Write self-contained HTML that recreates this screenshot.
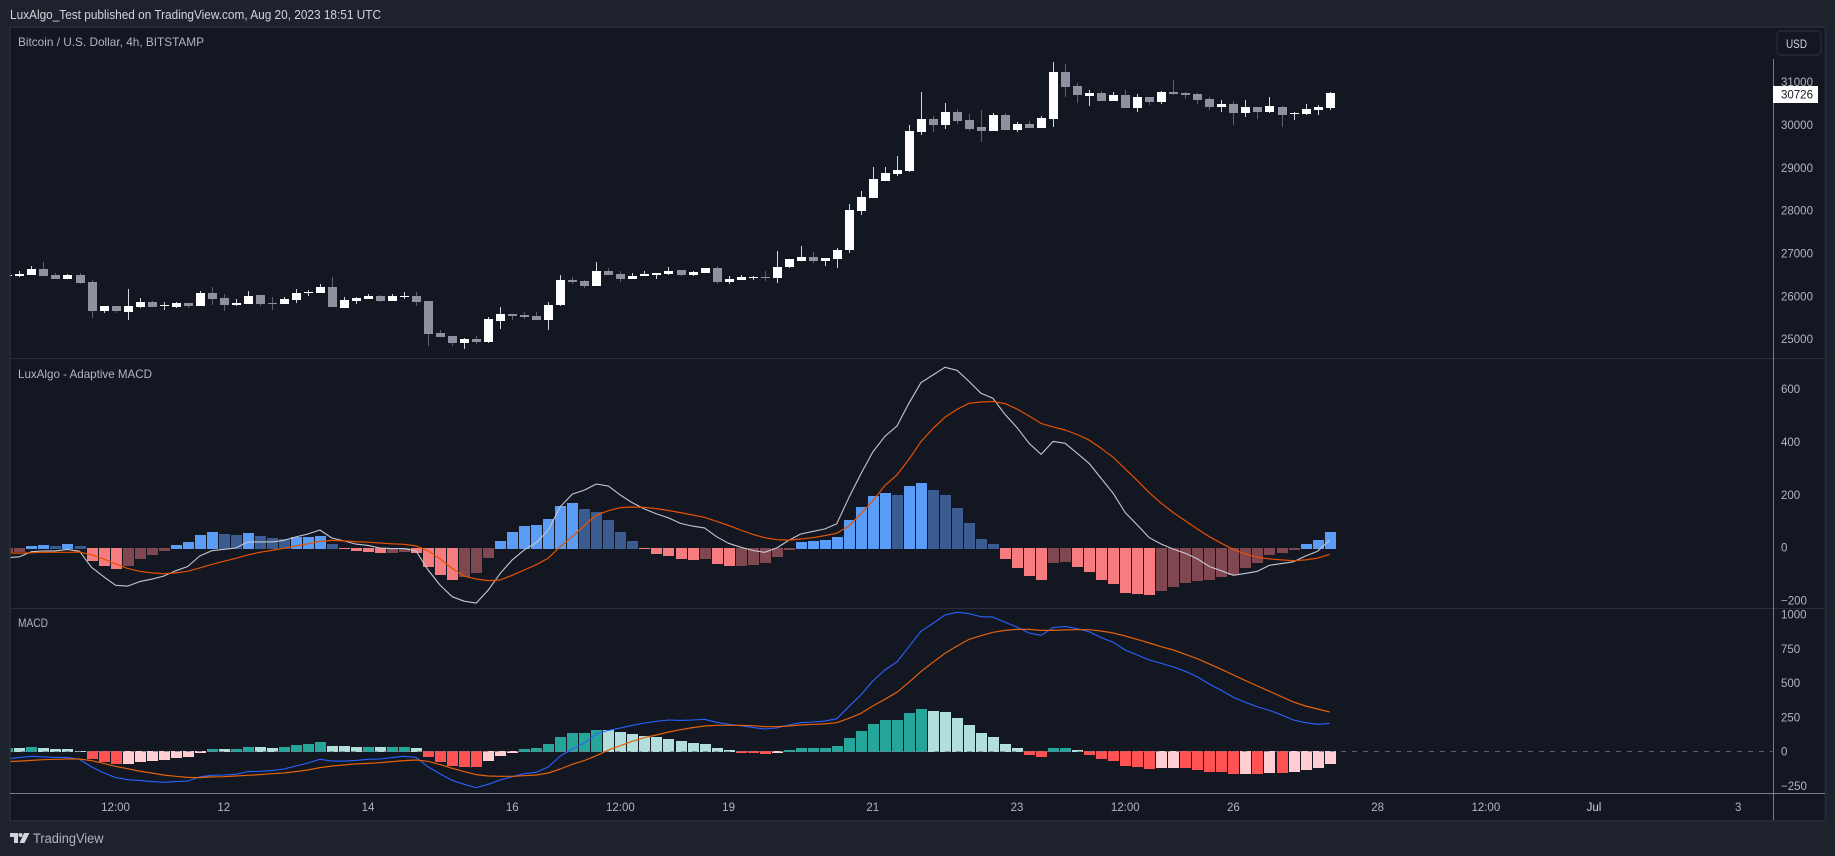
<!DOCTYPE html>
<html lang="en">
<head>
<meta charset="utf-8">
<title>Bitcoin / U.S. Dollar, 4h, BITSTAMP</title>
<style>
html,body{margin:0;padding:0;background:#1e222d;width:1835px;height:856px;overflow:hidden}
svg{display:block}
text{font-family:"Liberation Sans",sans-serif}
</style>
</head>
<body>
<svg id="chart" xmlns="http://www.w3.org/2000/svg" width="1835" height="856" viewBox="0 0 1835 856">
  <rect x="0" y="0" width="1835" height="856" fill="#1e222d"/>
  <text x="10" y="19" font-size="12.5" fill="#d1d4dc" textLength="371" lengthAdjust="spacingAndGlyphs">LuxAlgo_Test published on TradingView.com, Aug 20, 2023 18:51 UTC</text>
  <rect x="10" y="27" width="1815.5" height="794" fill="#131722" stroke="#2a2e39" stroke-width="1.5"/>
  <clipPath id="plot-clip"><rect x="10.7" y="27.7" width="1762" height="765"/></clipPath>
  <g id="marks" clip-path="url(#plot-clip)"></g>
  <line x1="10" x2="1825" y1="358.5" y2="358.5" stroke="#2a2e39"/>
  <line x1="10" x2="1825" y1="608.5" y2="608.5" stroke="#2a2e39"/>
  <line x1="10" x2="1825" y1="793.5" y2="793.5" stroke="#787b86"/>
  <line x1="1773.5" x2="1773.5" y1="59" y2="820" stroke="#787b86"/>
  <g id="axes"></g>
  <text x="18" y="46" font-size="12" fill="#b2b5be" textLength="186" lengthAdjust="spacingAndGlyphs">Bitcoin / U.S. Dollar, 4h, BITSTAMP</text>
  <text x="18" y="378" font-size="12" fill="#b2b5be" textLength="134" lengthAdjust="spacingAndGlyphs">LuxAlgo - Adaptive MACD</text>
  <text x="18" y="627" font-size="12" fill="#b2b5be" textLength="30" lengthAdjust="spacingAndGlyphs">MACD</text>
  <g>
    <rect x="1777" y="31" width="44" height="24" rx="4" fill="#131722" stroke="#2a2e39" stroke-width="1.2"/>
    <text x="1786" y="48" font-size="12" fill="#d1d4dc" textLength="21" lengthAdjust="spacingAndGlyphs">USD</text>
  </g>
  <g>
    <path d="M10 833h8v10h-4v-6h-4z" fill="#d1d4dc"/>
    <circle cx="20.5" cy="835" r="2" fill="#d1d4dc"/>
    <path d="M24 833h5.5l-5 10h-5z" fill="#d1d4dc"/>
    <text x="33" y="843" font-size="13.5" fill="#b2b5be" textLength="70.5" lengthAdjust="spacingAndGlyphs">TradingView</text>
  </g>
</svg>
<script>
const opens = [26480,
26463,26487,26627,26487,26393,26487,26323,25646,25763,25623,
25739,25856,25755,25739,25833,25763,26066,25950,25786,25809,
26020,25833,25809,25903,26058,26066,26206,25716,25879,25926,
25996,25879,25981,25996,25879,25132,25062,24899,24992,24922,
25413,25576,25553,25529,25436,25786,26370,26346,26230,26580,
26510,26393,26463,26486,26510,26603,26486,26533,26650,26323,
26370,26416,26440,26416,26673,26813,26907,26813,26860,27070,
27981,28284,28681,28844,28915,29825,30128,29988,30292,30105,
29942,29848,30222,29872,30012,29918,30128,31226,30899,30665,
30735,30549,30689,30385,30642,30525,30759,30735,30712,30595,
30409,30479,30268,30409,30292,30409,30245,30245,30338,30385];
const highs = [26490,
26580,26697,26790,26525,26510,26525,26370,25763,25763,26160,
25950,25879,25856,25856,25833,26113,26214,26043,25926,26113,
26020,25973,25973,26160,26136,26276,26440,25973,25973,26043,
26020,26043,26090,26090,25879,25202,25062,25016,25062,25506,
25739,25576,25623,25623,25856,26487,26440,26370,26790,26650,
26580,26533,26580,26533,26673,26603,26580,26650,26696,26463,
26486,26463,26580,27047,26860,27163,27023,26883,27117,28144,
28448,29008,29008,29265,29988,30759,30198,30502,30362,30245,
30338,30268,30268,30058,30082,30198,31459,31412,30969,30805,
30782,30759,30805,30712,30642,30782,31039,30759,30735,30642,
30572,30549,30572,30409,30642,30432,30292,30479,30455,30759];
const lows = [26470,
26448,26479,26463,26393,26393,26276,25483,25599,25607,25436,
25724,25739,25669,25716,25724,25763,25786,25646,25763,25809,
25763,25669,25809,25833,25996,26066,25739,25716,25809,25926,
25856,25879,25926,25763,24829,25039,24829,24759,24875,24899,
25226,25436,25459,25436,25202,25763,26276,26183,26230,26486,
26323,26393,26463,26393,26486,26463,26463,26533,26276,26276,
26370,26370,26346,26300,26650,26813,26767,26696,26650,27000,
27887,28284,28681,28798,28891,29755,29825,29895,30012,29848,
29591,29848,29872,29825,29918,29918,29942,30642,30502,30432,
30549,30549,30385,30292,30455,30479,30689,30595,30479,30338,
30292,29988,30175,30128,30268,29942,30105,30222,30222,30338];
const closes = [26490,
26518,26627,26463,26393,26479,26292,25646,25763,25646,25763,
25856,25739,25778,25833,25763,26066,25926,25786,25833,25996,
25809,25809,25926,26066,26090,26206,25739,25903,25950,25996,
25879,25996,25996,25856,25109,25039,24899,24992,24922,25459,
25576,25529,25506,25436,25786,26370,26323,26230,26580,26486,
26393,26463,26510,26533,26580,26486,26556,26650,26323,26393,
26440,26440,26416,26673,26860,26907,26813,26883,27070,28004,
28308,28728,28868,28938,29848,30128,29988,30292,30082,29895,
29848,30222,29872,30012,29918,30152,31226,30875,30689,30735,
30549,30689,30385,30642,30525,30759,30712,30689,30572,30409,
30479,30268,30409,30292,30432,30222,30268,30362,30409,30726];

const adaptiveHist = [-13,
-13,6,9,6,13,6,-47,-66,-77,-66,
-40,-25,-9,9,21,47,59,51,47,55,
43,36,32,40,40,43,13,-3,-9,-13,
-17,-17,-13,-17,-70,-100,-119,-108,-93,-36,
25,59,81,85,108,157,168,145,134,104,
59,25,-2,-21,-28,-40,-43,-40,-59,-66,
-66,-62,-55,-32,-6,21,25,28,40,104,
153,195,206,198,232,244,217,198,149,93,
32,13,-40,-74,-104,-119,-55,-51,-70,-89,
-119,-134,-168,-172,-176,-161,-146,-130,-123,-119,
-108,-100,-74,-55,-25,-17,-6,13,28,59];
const adaptiveLine = [-38,
-35,-16,-13,-13,-7,-14,-75,-110,-143,-146,
-129,-120,-108,-88,-72,-32,-12,-7,-2,21,
21,21,27,40,51,66,36,25,13,8,
-2,-4,-4,-13,-85,-142,-186,-203,-210,-161,
-98,-47,-9,18,66,154,202,217,240,232,
198,169,146,127,112,91,81,74,41,16,
1,-11,-18,-2,27,51,61,70,90,188,
278,361,420,459,545,623,652,681,670,628,
583,564,503,453,394,352,401,394,356,318,
261,205,132,85,37,13,-6,-22,-43,-72,
-88,-105,-98,-90,-67,-61,-54,-32,-14,28];
const adaptiveSignal = [-20,
-21,-20,-18,-18,-18,-17,-28,-43,-62,-79,
-90,-96,-99,-96,-90,-77,-64,-52,-41,-28,
-18,-11,-3,6,14,23,27,25,22,20,
17,14,12,6,-12,-43,-79,-108,-119,-125,
-123,-105,-85,-65,-40,3,41,83,123,139,
151,153,152,147,140,132,123,114,99,83,
66,50,37,30,28,32,37,45,54,81,
127,177,234,274,333,400,450,492,522,545,
550,552,544,523,497,469,456,444,427,406,
375,341,297,253,207,167,132,101,70,41,
16,-7,-25,-37,-43,-47,-50,-47,-40,-26];

const macdHist = [25,
24,32,24,17,16,2,-49,-71,-85,-84,
-71,-63,-56,-41,-34,-5,17,16,18,32,
31,24,32,46,54,68,39,38,32,33,
31,33,34,24,-34,-71,-100,-107,-108,-63,
-27,-5,17,24,54,105,134,135,156,155,
141,127,112,105,90,75,61,54,24,10,
-5,-6,-12,-5,10,24,25,26,39,97,
148,200,229,230,280,309,294,287,243,192,
134,105,54,24,-19,-34,24,25,10,-19,
-49,-63,-100,-107,-122,-114,-113,-114,-129,-144,
-145,-158,-157,-158,-151,-152,-144,-129,-114,-85];
const macdLine = [-54,
-46,-36,-41,-44,-44,-58,-114,-156,-192,-207,
-212,-221,-226,-221,-217,-187,-175,-173,-168,-148,
-146,-141,-129,-107,-85,-58,-71,-71,-66,-58,
-56,-46,-36,-44,-114,-165,-212,-241,-265,-241,
-209,-185,-163,-153,-114,-34,17,61,129,153,
170,190,207,219,229,226,229,234,212,197,
187,175,163,170,192,209,214,221,238,326,
411,513,594,652,764,876,934,995,1015,1005,
983,980,942,907,864,847,903,912,895,873,
830,796,740,703,667,642,616,584,543,491,
445,394,358,324,299,265,229,209,197,204];
const macdSignal = [-75,
-71,-66,-61,-58,-56,-56,-68,-88,-109,-127,
-144,-158,-173,-182,-190,-192,-187,-185,-180,-175,
-170,-163,-158,-148,-136,-119,-107,-100,-92,-88,
-83,-75,-68,-63,-73,-97,-124,-148,-170,-180,
-182,-182,-178,-173,-158,-129,-95,-68,-32,10,
41,73,100,119,141,158,173,185,190,190,
190,187,180,180,185,192,197,200,209,241,
277,331,380,431,504,581,650,715,769,817,
844,869,883,890,890,883,883,886,888,888,
878,864,842,817,791,764,740,708,676,637,
599,557,516,477,438,399,360,331,309,287];

const priceTicks = [25000,26000,27000,28000,29000,30000,31000];
const adaptiveTicks = [-200,0,200,400,600];
const macdTicks = [-250,0,250,500,750,1000];
const timeTickBars = [9,18,30,42,51,60,72,84,93,102,114,123,132,144];
const timeTickLabels = ["12:00","12","14","16","12:00","19","21","23","12:00","26","28","12:00","Jul","3"];
const lastPrice = 30726;

const NS = "http://www.w3.org/2000/svg";
const marks = document.getElementById("marks");
const axes = document.getElementById("axes");

function xBar(i){ return 7.38 + i * 12.02; }
function yPrice(p){ return 81.67 + (31000 - p) * 0.04283; }
function yAdaptive(v){ return 547.5 - v * 0.26455; }
function yMacd(v){ return 751.33 - v * 0.137; }

function mk(parent, tag, attrs){
  const el = document.createElementNS(NS, tag);
  for (const k in attrs) el.setAttribute(k, attrs[k]);
  parent.appendChild(el);
  return el;
}

closes.forEach(function(c, i){
  const o = opens[i];
  const up = c >= o;
  const cx = Math.round(xBar(i));
  const wick = mk(marks, "rect", {x: cx, y: Math.round(yPrice(highs[i])), width: 1,
    height: Math.max(1, Math.round(yPrice(lows[i])) - Math.round(yPrice(highs[i]))),
    fill: up ? "#d1d4dc" : "#5d606b", "shape-rendering": "crispEdges"});
  
  
  const top = Math.round(yPrice(Math.max(o, c)));
  const bottom = Math.round(yPrice(Math.min(o, c)));
  const body = mk(marks, "rect", {x: cx - 4, y: top, width: 9, height: Math.max(1, bottom - top),
    fill: up ? "#ffffff" : "#8f929e", "shape-rendering": "crispEdges"});
  
  
});

function drawHist(values, yFn, colors, name){
  values.forEach(function(v, i){
    const prev = i ? values[i - 1] : v;
    const zero = Math.round(yFn(0));
    const y = Math.round(yFn(v));
    let fill;
    if (v >= 0) fill = v >= prev ? colors[0] : colors[1];
    else fill = v < prev ? colors[2] : colors[3];
    const cx = Math.round(xBar(i));
    const top = Math.min(y, zero);
    const bar = mk(marks, "rect", {x: cx - 5, y: top, width: 11, height: Math.max(1, Math.abs(y - zero) + 1),
      fill: fill, "shape-rendering": "crispEdges"});
    
    
  });
}

function drawLine(values, yFn, color, width, name){
  const pts = values.map(function(v, i){ return xBar(i).toFixed(1) + "," + yFn(v).toFixed(1); }).join(" ");
  const line = mk(marks, "polyline", {points: pts, fill: "none", stroke: color, "stroke-width": width, "stroke-linejoin": "round"});
  
  
}

drawHist(adaptiveHist, yAdaptive, ["#5b9cf6", "#3a5c91", "#f77c80", "#7f4850"], "adaptive-macd-histogram-bar");
drawLine(adaptiveLine, yAdaptive, "#c4c7d0", 1.1, "adaptive-macd-line");
drawLine(adaptiveSignal, yAdaptive, "#e65100", 1.2, "adaptive-signal-line");

drawHist(macdHist, yMacd, ["#26a69a", "#b2dfdb", "#ff5252", "#ffcdd2"], "macd-histogram-bar");
const zeroLine = mk(marks, "line", {x1: 10, x2: 1773, y1: 751.5, y2: 751.5, stroke: "#787b86", "stroke-width": 1, "stroke-dasharray": "5 6", opacity: 0.75});


drawLine(macdLine, yMacd, "#2962ff", 1.1, "macd-line");
drawLine(macdSignal, yMacd, "#e2620a", 1.2, "macd-signal-line");

function tickText(x, y, label, anchor, color){
  const t = mk(axes, "text", {x: x, y: y, "font-size": 11.5, fill: color, "text-anchor": anchor});
  t.textContent = label;
  return t;
}

priceTicks.forEach(function(p){
  const t = tickText(1781, yPrice(p) + 4.5, String(p), "start", "#b2b5be");
  
  
});
adaptiveTicks.forEach(function(v){
  const t = tickText(1781, yAdaptive(v) + 4.2, String(v).replace("-", "\u2212"), "start", "#b2b5be");
  
  
});
macdTicks.forEach(function(v){
  const t = tickText(1781, yMacd(v) + 4.2, String(v).replace("-", "\u2212"), "start", "#b2b5be");
  
  
});
timeTickLabels.forEach(function(label, i){
  const t = tickText(xBar(timeTickBars[i]), 811, label, "middle", label === "Jul" ? "#d1d4dc" : "#b2b5be");
  
  
});

const tagY = yPrice(lastPrice);
const tag = mk(axes, "rect", {x: 1773, y: Math.round(tagY - 7.5), width: 45, height: 17, fill: "#ffffff"});


const tagText = tickText(1781, tagY + 5.3, String(lastPrice), "start", "#131722");


</script>
</body>
</html>
